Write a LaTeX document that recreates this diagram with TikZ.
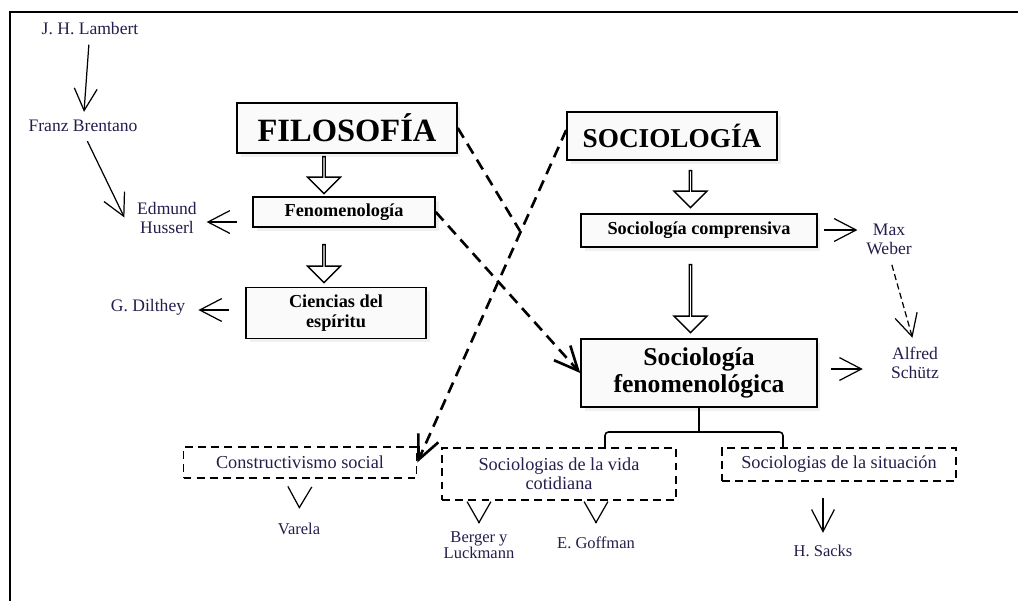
\documentclass[tikz,border=0pt]{standalone}
\usepackage{fontspec}
\setmainfont{Liberation Serif}
\usetikzlibrary{arrows.meta,shapes.arrows,shadows}
\definecolor{namecol}{RGB}{35,30,75}

\begin{document}
\begin{tikzpicture}[x=0.02cm, y=-0.02cm,
    mainbox/.style={rectangle, draw, line width=0.9pt, fill=gray!4, align=center, inner sep=0pt, drop shadow={shadow xshift=2pt, shadow yshift=-2pt, opacity=0.12}},
    dashbox/.style={rectangle, draw, dash pattern=on 4.5pt off 3pt, line width=0.9pt, align=center, inner sep=0pt, text=namecol, font=\fontsize{10.4}{10.8}\selectfont},
    person/.style={align=center, inner sep=0pt, text=namecol, font=\fontsize{10}{10.8}\selectfont},
    leaf/.style={person, font=\fontsize{9.4}{9}\selectfont},
    thinarrow/.style={-{Straight Barb[length=12.5pt, width=13pt]}, line width=0.7pt},
    vtip/.style={-{Straight Barb[length=11.9pt, width=13.6pt]}, line width=0.7pt},
    thindash/.style={thinarrow, dash pattern=on 3.5pt off 2pt},
    dashline/.style={dash pattern=on 6.5pt off 4pt, line width=1.5pt},
    dasharrow/.style={dashline, -{Straight Barb[length=13.6pt, width=12.5pt]}},
    blockarrow/.style={single arrow, draw, line width=0.8pt, fill=white, shape border rotate=270, minimum width=0.66cm, single arrow head extend=0.17cm, inner sep=0pt},
]
\useasboundingbox (0,0) rectangle (1018,600);
\draw[line width=1.1pt] (10,640) -- (10,12) -- (1060,12);

% boxes
\node[mainbox, minimum width=4.4cm, minimum height=1cm, font=\fontsize{18.5}{20}\selectfont\bfseries] (filo) at (347,128) {FILOSOFÍA};
\node[mainbox, minimum width=4.2cm, minimum height=0.96cm, font=\fontsize{15.5}{17}\selectfont\bfseries] (soc) at (672,136) {SOCIOLOGÍA};
\node[mainbox, minimum width=3.64cm, minimum height=0.6cm, font=\fontsize{10.4}{11.3}\selectfont\bfseries] (feno) at (344,212) {Fenomenología};
\node[mainbox, minimum width=3.6cm, minimum height=1.02cm, font=\fontsize{10.4}{11.3}\selectfont\bfseries] (cien) at (336,313) {Ciencias del\\espíritu};
\node[mainbox, minimum width=4.72cm, minimum height=0.66cm, font=\fontsize{10.4}{11.3}\selectfont\bfseries] (comp) at (699,230.5) {Sociología comprensiva};
\node[mainbox, minimum width=4.72cm, minimum height=1.36cm, font=\fontsize{14.6}{15.1}\selectfont\bfseries] (sfen) at (699,373) {Sociología\\fenomenológica};

\node[dashbox, minimum width=4.66cm, minimum height=0.62cm] (cons) at (300,462.5) {Constructivismo social};
\node[dashbox, minimum width=4.68cm, minimum height=1.04cm] (vida) at (559,474) {Sociologias de la vida\\cotidiana};
\node[dashbox, minimum width=4.68cm, minimum height=0.66cm] (situ) at (839,464.5) {Sociologias de la situación};

% block arrows
\node[blockarrow, minimum height=0.74cm] (a1) at (324,174.5) {};
\node[blockarrow, minimum height=0.76cm] (a2) at (324,263) {};
\node[blockarrow, minimum height=0.74cm] (a3) at (690.5,188.5) {};
\node[blockarrow, minimum height=1.36cm] (a4) at (690.5,298) {};

% authors
\node[person] (lambert) at (90,29) {J. H. Lambert};
\node[person] (brentano) at (83,126) {Franz Brentano};
\node[person] (husserl) at (167,217.5) {Edmund\\Husserl};
\node[person] (dilthey) at (148,307) {G. Dilthey};
\node[person] (weber) at (889,239) {Max\\Weber};
\node[person] (schutz) at (915,363) {Alfred\\Schütz};
\node[leaf] (varela) at (299,529) {Varela};
\node[leaf] (berger) at (479,545) {Berger y\\Luckmann};
\node[leaf] (goffman) at (596,543) {E. Goffman};
\node[leaf] (sacks) at (823,551) {H. Sacks};

\draw[thinarrow, shorten <=0.18cm, shorten >=0.16cm] (lambert) -- (brentano);
\draw[thinarrow, shorten <=0.2cm] (brentano.south) -- ([xshift=-0.25cm]husserl.west);
\draw[thinarrow, shorten <=0.3cm, shorten >=0.19cm] (feno.west |- 0,222) -- (husserl.east |- 0,222);
\draw[thinarrow, shorten <=0.32cm, shorten >=0.26cm] (cien.west |- 0,310) -- (dilthey.east |- 0,310);
\draw[thinarrow, shorten <=0.12cm, shorten >=0.17cm] (comp.east |- 0,230) -- (weber.west |- 0,230);
\draw[thindash, shorten <=0.21cm, shorten >=0.19cm] (weber.south) -- (schutz.north);
\draw[thinarrow, shorten <=0.26cm, shorten >=0.56cm] (sfen.east |- 0,369) -- (schutz.west |- 0,369);

% dashed links
\coordinate (j1) at (520,231);
\draw[dashline] (filo.east) -- (j1);
\draw[dasharrow] ([yshift=0.12cm]soc.west) -- (cons.east);
\draw[dasharrow] (feno.east) -- (sfen.west);

% bracket
\draw[line width=0.9pt] (sfen.south) -- (sfen.south |- 0,432);
\draw[line width=0.9pt, rounded corners=2pt] (vida.north -| 605,0) |- (sfen.south |- 0,432) -| (situ.north -| 783,0);

% bottom tips
\draw[vtip, shorten <=0.56cm, shorten >=0.28cm] (cons.south) -- (varela.north);
\draw[vtip, shorten <=0.44cm, shorten >=0.15cm] (berger.north |- vida.south) -- (berger.north);
\draw[vtip, shorten <=0.44cm, shorten >=0.26cm] (goffman.north |- vida.south) -- (goffman.north);
\draw[thinarrow, shorten <=0.32cm, shorten >=0.24cm] (sacks.north |- situ.south) -- (sacks.north);
\end{tikzpicture}
\end{document}
